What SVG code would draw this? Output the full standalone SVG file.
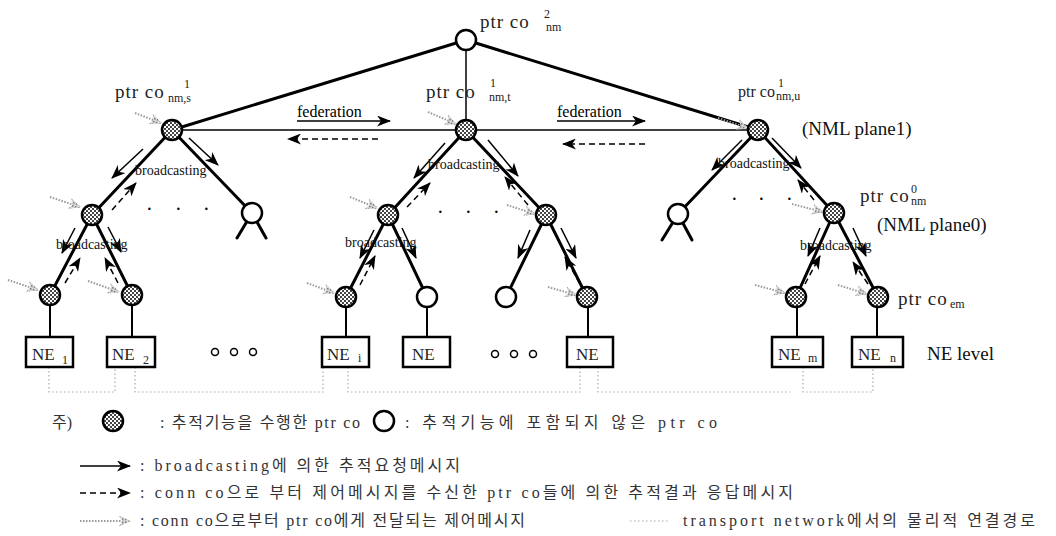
<svg xmlns="http://www.w3.org/2000/svg" width="1056" height="536" viewBox="0 0 1056 536">
<style>
.edge{stroke:#000;stroke-width:3;fill:none;stroke-linecap:round}
.thin{stroke:#000;stroke-width:1.5;fill:none}
.leafln{stroke:#000;stroke-width:2;fill:none}
.bc{stroke:#000;stroke-width:1.5;fill:none;marker-end:url(#ah)}
.rs{stroke:#000;stroke-width:1.5;fill:none;stroke-dasharray:6 4;marker-end:url(#ah)}
.ctl{stroke:#999;stroke-width:2;fill:none;stroke-dasharray:1.5 1.5;marker-end:url(#gh)}
.tn{stroke:#aaa;stroke-width:1.2;fill:none;stroke-dasharray:1.5 2.5}
.act{fill:url(#chk);stroke:#000;stroke-width:2.5}
.idle{fill:#fff;stroke:#000;stroke-width:2.5}
.box{fill:#fff;stroke:#000;stroke-width:2.5}
.lbl{font-family:"Liberation Serif",serif;font-size:19px;fill:#222;letter-spacing:1px}
.sm{font-family:"Liberation Serif",serif;font-size:12px;fill:#222}
.bcl{font-family:"Liberation Serif",serif;font-size:14px;fill:#111}
.ne{font-family:"Liberation Serif",serif;font-size:17px;fill:#222}
.big{font-family:"Liberation Serif",serif;font-size:19px;fill:#111}
.fed{font-family:"Liberation Serif",serif;font-size:16px;fill:#000}
.dot{font-family:"Liberation Serif",serif;font-size:20px;fill:#000}
.leg{font-family:"Liberation Serif","Noto Sans CJK KR",serif;font-size:16px;fill:#333}
</style>
<defs>
<pattern id="chk" width="4" height="4" patternUnits="userSpaceOnUse">
<rect width="4" height="4" fill="#fff"/><rect width="2" height="2" fill="#444"/><rect x="2" y="2" width="2" height="2" fill="#444"/>
</pattern>
<pattern id="lchk" width="3" height="3" patternUnits="userSpaceOnUse">
<rect width="3" height="3" fill="#ddd"/><rect width="1.5" height="1.5" fill="#666"/>
</pattern>
<marker id="ah" markerUnits="userSpaceOnUse" markerWidth="15" markerHeight="11" refX="13" refY="5.5" orient="auto">
<path d="M0,0 L14,5.5 L0,11 L4,5.5 z" fill="#000"/>
</marker>
<marker id="gh" markerUnits="userSpaceOnUse" markerWidth="13" markerHeight="11" refX="11" refY="5.5" orient="auto">
<path d="M0,0 L12,5.5 L0,11 L3,5.5 z" fill="url(#lchk)"/>
</marker>
</defs>

<g id="connectors">
<line class="edge" x1="466" y1="40" x2="172" y2="130"/>
<line class="edge" x1="466" y1="40" x2="758" y2="130"/>
<line class="thin" x1="466" y1="40" x2="466" y2="130"/>
<line class="thin" x1="172" y1="130" x2="758" y2="130"/>
<line class="edge" x1="172" y1="130" x2="92" y2="215"/>
<line class="edge" x1="172" y1="130" x2="252" y2="213"/>
<line class="edge" x1="252" y1="213" x2="237" y2="238"/>
<line class="edge" x1="252" y1="213" x2="266" y2="238"/>
<line class="edge" x1="92" y1="215" x2="50" y2="295"/>
<line class="edge" x1="92" y1="215" x2="132" y2="295"/>
<line class="edge" x1="466" y1="130" x2="388" y2="215"/>
<line class="edge" x1="466" y1="130" x2="546" y2="215"/>
<line class="edge" x1="388" y1="215" x2="346" y2="297"/>
<line class="edge" x1="388" y1="215" x2="427" y2="297"/>
<line class="edge" x1="546" y1="215" x2="506" y2="297"/>
<line class="edge" x1="546" y1="215" x2="587" y2="297"/>
<line class="edge" x1="758" y1="130" x2="678" y2="214"/>
<line class="edge" x1="678" y1="214" x2="662" y2="240"/>
<line class="edge" x1="678" y1="214" x2="692" y2="240"/>
<line class="edge" x1="758" y1="130" x2="834" y2="213"/>
<line class="edge" x1="834" y1="213" x2="796" y2="297"/>
<line class="edge" x1="834" y1="213" x2="878" y2="297"/>
<line class="leafln" x1="50" y1="305" x2="50" y2="337"/>
<line class="leafln" x1="132" y1="305" x2="132" y2="337"/>
<line class="leafln" x1="346" y1="307" x2="346" y2="337"/>
<line class="leafln" x1="427" y1="307" x2="427" y2="337"/>
<line class="leafln" x1="588" y1="307" x2="588" y2="337"/>
<line class="leafln" x1="797" y1="307" x2="797" y2="337"/>
<line class="leafln" x1="877" y1="307" x2="877" y2="337"/>
<path class="tn" d="M49,367 V392 H115 V367 M135,367 V392 H323 V367 M348,367 V392 H580 V367 M598,367 V392 H790 M803,367 V392 H873 V367"/>
<line class="bc" x1="297" y1="121" x2="390" y2="121"/>
<line class="rs" x1="378" y1="139" x2="288" y2="139"/>
<line class="bc" x1="557" y1="121" x2="645" y2="121"/>
<line class="rs" x1="645" y1="144" x2="563" y2="144"/>
<line class="bc" x1="143" y1="149" x2="112" y2="178"/>
<line class="bc" x1="189" y1="138" x2="218" y2="165"/>
<line class="bc" x1="75" y1="228" x2="62" y2="253"/>
<line class="bc" x1="108" y1="227" x2="121" y2="252"/>
<line class="bc" x1="445" y1="143" x2="414" y2="178"/>
<line class="bc" x1="488" y1="140" x2="518" y2="176"/>
<line class="bc" x1="374" y1="230" x2="360" y2="258"/>
<line class="bc" x1="402" y1="228" x2="416" y2="258"/>
<line class="bc" x1="530" y1="230" x2="518" y2="258"/>
<line class="bc" x1="561" y1="228" x2="576" y2="258"/>
<line class="bc" x1="742" y1="140" x2="712" y2="170"/>
<line class="bc" x1="772" y1="138" x2="801" y2="168"/>
<line class="bc" x1="820" y1="228" x2="808" y2="256"/>
<line class="bc" x1="853" y1="228" x2="866" y2="256"/>
<line class="rs" x1="112" y1="210" x2="136" y2="183"/>
<line class="rs" x1="65" y1="283" x2="80" y2="258"/>
<line class="rs" x1="118" y1="283" x2="105" y2="258"/>
<line class="rs" x1="407" y1="207" x2="430" y2="183"/>
<line class="rs" x1="528" y1="205" x2="505" y2="177"/>
<line class="rs" x1="360" y1="285" x2="375" y2="256"/>
<line class="rs" x1="580" y1="284" x2="565" y2="257"/>
<line class="rs" x1="814" y1="200" x2="798" y2="180"/>
<line class="rs" x1="805" y1="284" x2="820" y2="256"/>
<line class="rs" x1="868" y1="284" x2="853" y2="262"/>
<line class="ctl" x1="135" y1="113" x2="161" y2="123"/>
<line class="ctl" x1="50" y1="197" x2="80" y2="207"/>
<line class="ctl" x1="8" y1="280" x2="38" y2="290"/>
<line class="ctl" x1="88" y1="281" x2="119" y2="292"/>
<line class="ctl" x1="428" y1="112" x2="456" y2="124"/>
<line class="ctl" x1="350" y1="197" x2="377" y2="208"/>
<line class="ctl" x1="307" y1="283" x2="334" y2="293"/>
<line class="ctl" x1="507" y1="205" x2="535" y2="214"/>
<line class="ctl" x1="548" y1="287" x2="576" y2="295"/>
<line class="ctl" x1="718" y1="118" x2="748" y2="128"/>
<line class="ctl" x1="792" y1="204" x2="823" y2="212"/>
<line class="ctl" x1="755" y1="285" x2="785" y2="293"/>
<line class="ctl" x1="838" y1="285" x2="867" y2="294"/>
</g>

<g id="node-root"><circle class="idle" cx="466" cy="40" r="10"/>
<text class="lbl" x="480" y="28">ptr co</text><text class="sm" x="544" y="18">2</text><text class="sm" x="546" y="31">nm</text></g>
<g id="node-s"><circle class="act" cx="172" cy="130" r="10"/>
<text class="lbl" x="115" y="98">ptr co</text><text class="sm" x="184" y="88">1</text><text class="sm" x="168" y="102">nm,s</text></g>
<g id="node-t"><circle class="act" cx="466" cy="130" r="10"/>
<text class="lbl" x="426" y="98">ptr co</text><text class="sm" x="490" y="87">1</text><text class="sm" x="489" y="101">nm,t</text></g>
<g id="node-u"><circle class="act" cx="758" cy="130" r="10"/>
<text class="lbl" x="738" y="97" style="font-size:16px;letter-spacing:0">ptr co</text><text class="sm" x="778" y="87">1</text><text class="sm" x="776" y="100">nm,u</text>
<text class="big" x="802" y="135">(NML plane1)</text></g>

<g id="node-a1"><circle class="act" cx="92" cy="215" r="10"/></g>
<g id="node-a2"><circle class="idle" cx="252" cy="213" r="10"/></g>
<g id="node-a11"><circle class="act" cx="50" cy="295" r="10"/></g>
<g id="node-a12"><circle class="act" cx="132" cy="295" r="10"/></g>
<g id="node-b1"><circle class="act" cx="388" cy="215" r="10"/></g>
<g id="node-b2"><circle class="act" cx="546" cy="215" r="10"/></g>
<g id="node-b11"><circle class="act" cx="346" cy="297" r="10"/></g>
<g id="node-b12"><circle class="idle" cx="427" cy="297" r="10"/></g>
<g id="node-b21"><circle class="idle" cx="506" cy="297" r="10"/></g>
<g id="node-b22"><circle class="act" cx="587" cy="297" r="10"/></g>
<g id="node-c1"><circle class="idle" cx="678" cy="214" r="10"/></g>
<g id="node-c2"><circle class="act" cx="834" cy="213" r="10"/>
<text class="lbl" x="860" y="202">ptr co</text><text class="sm" x="911" y="193">0</text><text class="sm" x="911" y="205">nm</text>
<text class="big" x="877" y="231">(NML plane0)</text></g>
<g id="node-c21"><circle class="act" cx="796" cy="297" r="10"/></g>
<g id="node-c22"><circle class="act" cx="878" cy="297" r="10"/>
<text class="lbl" x="898" y="305">ptr co</text><text class="sm" x="950" y="308">em</text></g>

<g id="labels">
<text class="bcl" x="135" y="175">broadcasting</text>
<text class="bcl" x="56" y="249">broadcasting</text>
<text class="bcl" x="428" y="169">broadcasting</text>
<text class="bcl" x="345" y="247">broadcasting</text>
<text class="bcl" x="718" y="168">broadcasting</text>
<text class="bcl" x="800" y="250">broadcasting</text>
<text class="fed" x="297" y="117">federation</text>
<text class="fed" x="557" y="117">federation</text>
<text class="dot" x="146" y="216">·</text><text class="dot" x="175" y="216">·</text><text class="dot" x="203" y="216">·</text>
<text class="dot" x="437" y="219">·</text><text class="dot" x="465" y="219">·</text><text class="dot" x="493" y="219">·</text>
<text class="dot" x="731" y="206">·</text><text class="dot" x="758" y="206">·</text><text class="dot" x="786" y="206">·</text>
<g fill="none" stroke="#000" stroke-width="1.5">
<circle cx="215" cy="352" r="3.5"/><circle cx="234" cy="352" r="3.5"/><circle cx="253" cy="352" r="3.5"/>
<circle cx="495" cy="354" r="3.5"/><circle cx="514" cy="354" r="3.5"/><circle cx="533" cy="354" r="3.5"/>
</g>
<text class="big" x="927" y="360">NE level</text>
</g>

<g id="ne1"><rect class="box" x="26" y="337" width="47" height="30"/><text class="ne" x="32" y="360">NE</text><text class="sm" x="62" y="364">1</text></g>
<g id="ne2"><rect class="box" x="107" y="337" width="48" height="30"/><text class="ne" x="112" y="360">NE</text><text class="sm" x="143" y="364">2</text></g>
<g id="nei"><rect class="box" x="322" y="337" width="47" height="30"/><text class="ne" x="327" y="360">NE</text><text class="sm" x="358" y="362">i</text></g>
<g id="ne-b12"><rect class="box" x="403" y="337" width="47" height="30"/><text class="ne" x="412" y="360">NE</text></g>
<g id="ne-b22"><rect class="box" x="567" y="337" width="46" height="30"/><text class="ne" x="576" y="360">NE</text></g>
<g id="nem"><rect class="box" x="772" y="337" width="51" height="30"/><text class="ne" x="778" y="360">NE</text><text class="sm" x="808" y="362">m</text></g>
<g id="nen"><rect class="box" x="852" y="337" width="51" height="30"/><text class="ne" x="858" y="360">NE</text><text class="sm" x="890" y="362">n</text></g>

<g id="legend">
<text class="leg" x="52" y="428">주)</text>
<circle class="act" cx="113" cy="421" r="10"/>
<text class="leg" x="160" y="428" textLength="200" lengthAdjust="spacing">: 추적기능을 수행한 ptr co</text>
<circle class="idle" cx="384" cy="421" r="10"/>
<text class="leg" x="405" y="428" textLength="312" lengthAdjust="spacing">: 추적기능에 포함되지 않은 ptr co</text>
<line class="bc" x1="80" y1="466" x2="130" y2="466"/>
<text class="leg" x="140" y="471" textLength="320" lengthAdjust="spacing">: broadcasting에 의한 추적요청메시지</text>
<line class="rs" x1="80" y1="493" x2="130" y2="493"/>
<text class="leg" x="140" y="498" textLength="653" lengthAdjust="spacing">: conn co으로 부터 제어메시지를 수신한 ptr co들에 의한 추적결과 응답메시지</text>
<line class="ctl" x1="80" y1="521" x2="130" y2="521"/>
<text class="leg" x="140" y="526" textLength="385" lengthAdjust="spacing">: conn co으로부터 ptr co에게 전달되는 제어메시지</text>
<line class="tn" x1="630" y1="521" x2="670" y2="521"/>
<text class="leg" x="683" y="526" textLength="352" lengthAdjust="spacing">transport network에서의 물리적 연결경로</text>
</g>
</svg>
